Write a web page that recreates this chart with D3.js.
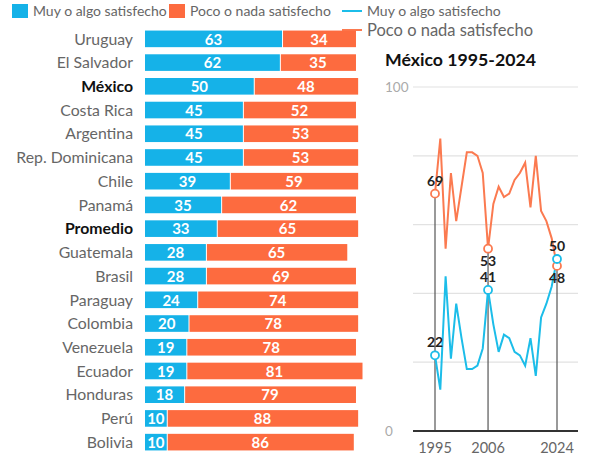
<!DOCTYPE html>
<html>
<head>
    <meta charset="utf-8">
    <script src="https://cdn.jsdelivr.net/npm/d3@7"></script>
    <style>
        body { margin: 0; background: #fff; }
        svg { font-family: Lato, sans-serif; }
        .leg { fill: #666; font-size: 14px; }
        .lbl { fill: #666; font-size: 15.8px; }
        .lbl.hi { fill: #111; font-weight: bold; }
        .val { fill: #fff; font-size: 15px; font-weight: bold; }
        .pt { fill: #222; font-size: 14px; font-weight: bold; }
    </style>
</head>
<body>
<svg width="592" height="459"></svg>
<script>

var countries = ['Uruguay', 'El Salvador', 'México', 'Costa Rica', 'Argentina', 'Rep. Dominicana', 'Chile',
        'Panamá', 'Promedio', 'Guatemala', 'Brasil', 'Paraguay', 'Colombia', 'Venezuela', 'Ecuador',
        'Honduras', 'Perú', 'Bolivia'],
    satisfied = [63, 62, 50, 45, 45, 45, 39, 35, 33, 28, 28, 24, 20, 19, 19, 18, 10, 10],
    unsatisfied = [34, 35, 48, 52, 53, 53, 59, 62, 65, 65, 69, 74, 78, 78, 81, 79, 88, 86],
    highlighted = ['México', 'Promedio'];

var years = [1995, 1996, 1997, 1998, 2000, 2001, 2002, 2003, 2004, 2005, 2006, 2007, 2008, 2009,
        2010, 2011, 2013, 2015, 2016, 2017, 2018, 2020, 2023, 2024],
    mxSatisfied = [22, 12, 45, 21, 37, 27, 18, 18, 19, 24, 41, 31, 23, 28, 27, 23, 22, 19, 27, 16,
        33, 37, 42, 50],
    mxUnsatisfied = [69, 85, 53, 75, 61, 71, 81, 81, 80, 75, 53, 66, 71, 68, 69, 73, 75, 78, 65, 80,
        64, 61, 56, 48],
    yTicks = [0, 20, 40, 60, 80, 100],
    xTicks = [1995, 2006, 2024],
    markedYears = [1995, 2006, 2024];

var blue = '#15b2e8',
    orange = '#fd6b3f',
    lineBlue = '#1cbde9',
    lineOrange = '#fb7a50';

var svg = d3.select('svg');

// legend
var legend = svg.append('g');
legend.append('rect').attr('x', 12).attr('y', 4).attr('width', 16).attr('height', 14).attr('fill', blue);
legend.append('text').attr('class', 'leg').attr('x', 33).attr('y', 16).text('Muy o algo satisfecho');
legend.append('rect').attr('x', 169).attr('y', 4).attr('width', 16).attr('height', 14).attr('fill', orange);
legend.append('text').attr('class', 'leg').attr('x', 190).attr('y', 16).text('Poco o nada satisfecho');
legend.append('line').attr('x1', 342).attr('x2', 362).attr('y1', 11).attr('y2', 11)
    .attr('stroke', lineBlue).attr('stroke-width', 2);
legend.append('text').attr('class', 'leg').attr('x', 367).attr('y', 16).text('Muy o algo satisfecho');
legend.append('line').attr('x1', 342).attr('x2', 362).attr('y1', 30).attr('y2', 30)
    .attr('stroke', lineOrange).attr('stroke-width', 2);
legend.append('text').attr('class', 'leg').attr('x', 367).attr('y', 36)
    .style('font-size', '16.5px').text('Poco o nada satisfecho');

// bars
var x = d3.scaleLinear().domain([0, 100]).range([145, 362.5]),
    y = d3.scaleBand().domain(countries).range([27, 454]).paddingInner(0.3).paddingOuter(0.15);

var rows = svg.append('g').selectAll('g')
    .data(countries)
    .enter()
    .append('g')
    .attr('transform', function (d) { return 'translate(0,' + y(d) + ')'; });

rows.append('text')
    .attr('class', function (d) { return highlighted.indexOf(d) >= 0 ? 'lbl hi' : 'lbl'; })
    .attr('x', 133)
    .attr('y', y.bandwidth() / 2)
    .attr('dy', '0.36em')
    .attr('text-anchor', 'end')
    .text(function (d) { return d; });

rows.append('rect')
    .attr('x', x(0))
    .attr('width', function (d, i) { return x(satisfied[i]) - x(0); })
    .attr('height', y.bandwidth())
    .attr('fill', blue);

rows.append('rect')
    .attr('x', function (d, i) { return x(satisfied[i]) + 1; })
    .attr('width', function (d, i) { return x(satisfied[i] + unsatisfied[i]) - x(satisfied[i]) - 1; })
    .attr('height', y.bandwidth())
    .attr('fill', orange);

rows.append('text')
    .attr('class', 'val')
    .attr('x', function (d, i) { return (x(0) + x(satisfied[i])) / 2; })
    .attr('y', y.bandwidth() / 2)
    .attr('dy', '0.38em')
    .attr('text-anchor', 'middle')
    .text(function (d, i) { return satisfied[i]; });

rows.append('text')
    .attr('class', 'val')
    .attr('x', function (d, i) { return (x(satisfied[i]) + x(satisfied[i] + unsatisfied[i])) / 2; })
    .attr('y', y.bandwidth() / 2)
    .attr('dy', '0.38em')
    .attr('text-anchor', 'middle')
    .text(function (d, i) { return unsatisfied[i]; });

// line chart
svg.append('text')
    .attr('x', 385).attr('y', 66)
    .attr('fill', '#111')
    .style('font-size', '17.7px').style('font-weight', 'bold')
    .text('México 1995-2024');

var lx = d3.scalePoint().domain(years).range([435, 557]),
    ly = d3.scaleLinear().domain([0, 100]).range([431, 87]);

var grid = svg.append('g');
grid.selectAll('line')
    .data(yTicks.slice(1))
    .enter()
    .append('line')
    .attr('x1', 413).attr('x2', 578)
    .attr('y1', function (d) { return ly(d); })
    .attr('y2', function (d) { return ly(d); })
    .attr('stroke', '#e2e2e2')
    .attr('stroke-width', 1.2);

grid.selectAll('text')
    .data([yTicks[0], yTicks[yTicks.length - 1]])
    .enter()
    .append('text')
    .attr('x', 385)
    .attr('y', function (d) { return ly(d); })
    .attr('dy', '0.35em')
    .attr('fill', '#aaa')
    .style('font-size', '13.5px')
    .text(function (d) { return d; });

// reference verticals
svg.append('g').selectAll('line')
    .data(markedYears)
    .enter()
    .append('line')
    .attr('x1', function (d) { return lx(d); })
    .attr('x2', function (d) { return lx(d); })
    .attr('y1', function (d) {
        var i = years.indexOf(d);
        return ly(Math.max(mxSatisfied[i], mxUnsatisfied[i]));
    })
    .attr('y2', ly(0))
    .attr('stroke', '#555')
    .attr('stroke-width', 1.2);

svg.append('line')
    .attr('x1', 413).attr('x2', 578)
    .attr('y1', ly(0)).attr('y2', ly(0))
    .attr('stroke', '#333').attr('stroke-width', 2);

svg.append('g').selectAll('text')
    .data(xTicks)
    .enter()
    .append('text')
    .attr('x', function (d) { return lx(d); })
    .attr('y', 453)
    .attr('text-anchor', 'middle')
    .attr('fill', '#666')
    .style('font-size', '14.5px')
    .text(function (d) { return d; });

var line = d3.line()
    .x(function (d) { return lx(d[0]); })
    .y(function (d) { return ly(d[1]); });

[[mxUnsatisfied, lineOrange], [mxSatisfied, lineBlue]].forEach(function (s) {
    var pts = years.map(function (yr, i) { return [yr, s[0][i]]; });
    svg.append('path')
        .datum(pts)
        .attr('d', line)
        .attr('fill', 'none')
        .attr('stroke', s[1])
        .attr('stroke-width', 2)
        .attr('stroke-linejoin', 'miter');
});

// marked points
[[mxUnsatisfied, lineOrange, 'unsat'], [mxSatisfied, lineBlue, 'sat']].forEach(function (s) {
    markedYears.forEach(function (yr) {
        var i = years.indexOf(yr),
            v = s[0][i],
            below = s[2] === 'unsat' && yr !== 1995;
        svg.append('circle')
            .attr('cx', lx(yr)).attr('cy', ly(v)).attr('r', 4)
            .attr('fill', '#fff').attr('stroke', s[1]).attr('stroke-width', 1.8);
        svg.append('text')
            .attr('class', 'pt')
            .attr('x', lx(yr)).attr('y', below ? ly(v) + 17 : ly(v) - 8)
            .attr('text-anchor', 'middle')
            .text(v);
    });
});

</script>
</body>
</html>
